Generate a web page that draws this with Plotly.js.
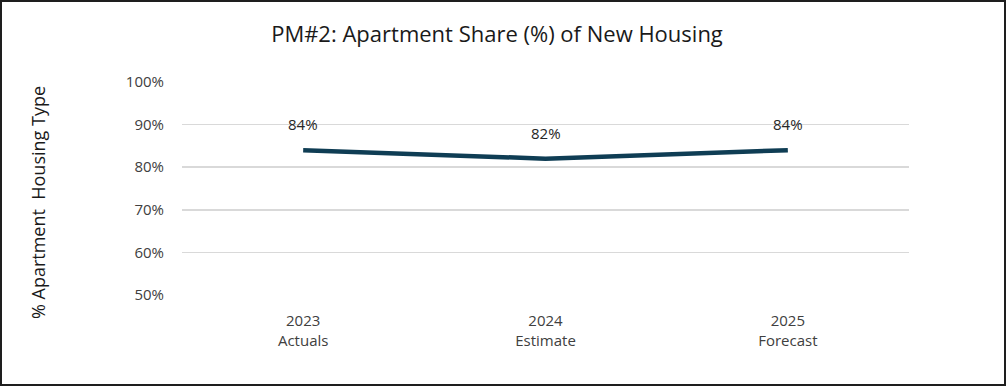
<!DOCTYPE html>
<html>
<head>
<meta charset="utf-8">
<script src="https://cdn.plot.ly/plotly-3.0.1.min.js"></script>
<style>
  html, body { margin: 0; padding: 0; background: #fff; }
  #frame { width: 1006px; height: 386px; box-sizing: border-box; border: 2px solid #1e1e1e; }
  #chart { width: 1002px; height: 382px; }
</style>
</head>
<body>
<div id="frame"><div id="chart"></div></div>
<script>
const years = ["2023", "2024", "2025"];
const stages = ["Actuals", "Estimate", "Forecast"];
const apartmentShare = [84, 82, 84];
const yTickValues = [50, 60, 70, 80, 90, 100];

const categories = years.map((y, i) => y + "<br>" + stages[i]);
const FONT = "'Open Sans', 'Noto Sans', sans-serif";

const trace = {
  type: "scatter",
  mode: "lines",
  x: categories,
  y: apartmentShare,
  line: { color: "#0f3d54", width: 4.5 },
  hoverinfo: "skip"
};

const labelAnnotations = categories.map((c, i) => ({
  x: c, y: apartmentShare[i], xref: "x", yref: "y",
  text: apartmentShare[i] + "%", showarrow: false,
  yanchor: "bottom", yshift: 14,
  font: { family: FONT, size: 15, color: "#262626" }
}));

const layout = {
  width: 1002, height: 382,
  margin: { l: 180, r: 95, t: 80, b: 89 },
  paper_bgcolor: "#ffffff", plot_bgcolor: "#ffffff",
  showlegend: false,
  title: {
    text: "PM#2: Apartment Share (%) of New Housing",
    x: 0.494, xanchor: "center", xref: "container",
    y: 0.916, yanchor: "middle", yref: "container",
    font: { family: FONT, size: 22, color: "#1a1a1a" }
  },
  xaxis: {
    type: "category",
    range: [-0.5, 2.5],
    showgrid: false, zeroline: false, showline: false,
    ticks: "outside", ticklen: 12, tickcolor: "rgba(0,0,0,0)",
    tickfont: { family: FONT, size: 15, color: "#404040" },
    fixedrange: true
  },
  yaxis: {
    range: [50, 100],
    tickvals: yTickValues,
    ticktext: yTickValues.map(v => v + "%"),
    showgrid: true, gridcolor: "#d9d9d9", gridwidth: 1.5,
    zeroline: false, showline: false,
    ticks: "outside", ticklen: 14, tickcolor: "rgba(0,0,0,0)",
    tickfont: { family: FONT, size: 15, color: "#404040" },
    fixedrange: true
  },
  annotations: labelAnnotations.concat([{
    xref: "paper", yref: "paper",
    x: -0.198, y: 0.432,
    text: "% Apartment  Housing Type",
    textangle: -90, showarrow: false,
    xanchor: "center", yanchor: "middle",
    font: { family: FONT, size: 18, color: "#1a1a1a" }
  }])
};

Plotly.newPlot("chart", [trace], layout, { displayModeBar: false, staticPlot: true });
</script>
</body>
</html>
